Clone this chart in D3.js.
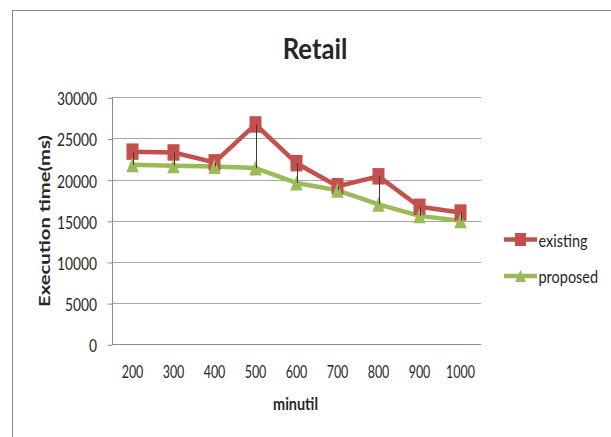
<!DOCTYPE html>
<html>
<head>
<meta charset="utf-8">
<script src="https://cdn.jsdelivr.net/npm/d3@7"></script>
<style>
  html, body { margin: 0; padding: 0; background: #fff; }
  svg { display: block; }
  text { font-family: Lato, "Open Sans", "DejaVu Sans", sans-serif; fill: #262626; }
</style>
</head>
<body>
<svg id="chart" width="611" height="437"></svg>
<script>
// Execution time per minutil threshold, Retail dataset
const categories = ["200", "300", "400", "500", "600", "700", "800", "900", "1000"];
const existing = [23400, 23300, 22100, 26700, 22000, 19200, 20400, 16700, 16000];
const proposed = [21800, 21700, 21600, 21400, 19600, 18700, 17000, 15600, 15000];
const yTicks = [0, 5000, 10000, 15000, 20000, 25000, 30000];
const seriesNames = ["existing", "proposed"];

const RED = "#c4504d";
const GREEN = "#9bbb59";

const svg = d3.select("#chart");
const plot = { left: 112, right: 481, top: 97.3, bottom: 344.3 };

// Outer chart frame (its right and bottom edges run past the canvas)
svg.append("rect")
  .attr("x", 12.5).attr("y", 10.5)
  .attr("width", 700).attr("height", 500)
  .attr("fill", "none").attr("stroke", "#8a8a8a").attr("stroke-width", 1);

const x = d3.scaleBand().domain(categories).range([plot.left, plot.right]).padding(0);
const y = d3.scaleLinear().domain([0, 30000]).range([plot.bottom, plot.top]);
const cx = c => x(c) + x.bandwidth() / 2;

// Horizontally squeeze a set of labels so that a reference string spans a given width
function squeezeFactor(sample, fontSize, weight, width) {
  const t = svg.append("text").attr("font-size", fontSize).attr("font-weight", weight).text(sample);
  const len = t.node().getComputedTextLength();
  t.remove();
  return width / len;
}

// Gridlines
svg.append("g").selectAll("line")
  .data(yTicks.filter(v => v > 0))
  .join("line")
  .attr("x1", plot.left).attr("x2", plot.right)
  .attr("y1", d => Math.round(y(d)) + 0.5).attr("y2", d => Math.round(y(d)) + 0.5)
  .attr("stroke", "#a6a6a6").attr("stroke-width", 1);

// Y axis
const ySx = squeezeFactor("30000", 18, "normal", 40);
const yAxisG = svg.append("g")
  .attr("transform", `translate(${plot.left + 0.5},0.5)`)
  .call(d3.axisLeft(y).tickValues(yTicks).tickSize(5).tickFormat(d3.format("d")));
yAxisG.select(".domain").attr("stroke", "#8c8c8c").attr("d", `M0,${plot.top}V${plot.bottom}`);
yAxisG.selectAll(".tick line").attr("stroke", "#8c8c8c");
yAxisG.selectAll(".tick text")
  .attr("x", null).attr("dy", null)
  .attr("font-size", 18)
  .attr("text-anchor", "end")
  .attr("fill", "#262626")
  .attr("transform", `translate(-15.5,7) scale(${ySx},1)`);

// X axis
const xSx = squeezeFactor("200", 17.6, "normal", 21.7);
const xAxisG = svg.append("g")
  .attr("transform", `translate(0,${Math.round(plot.bottom) + 0.5})`)
  .call(d3.axisBottom(x).tickSize(0));
xAxisG.select(".domain").attr("stroke", "#8c8c8c").attr("d", `M${plot.left},0H${plot.right}`);
xAxisG.selectAll(".tick text")
  .attr("y", null).attr("dy", null)
  .attr("font-size", 17.6)
  .attr("fill", "#262626")
  .attr("transform", `translate(0,33.5) scale(${xSx},1)`);

// Lines
const line = d3.line().x((d, i) => cx(categories[i])).y(d => y(d));
svg.append("path").datum(existing)
  .attr("d", line).attr("fill", "none").attr("stroke", RED)
  .attr("stroke-width", 4.5).attr("stroke-linejoin", "round");
svg.append("path").datum(proposed)
  .attr("d", line).attr("fill", "none").attr("stroke", GREEN)
  .attr("stroke-width", 4.5).attr("stroke-linejoin", "round");

// Marker shapes
const SQ_W = 12, SQ_H = 16.5, TR_W = 12.5, TR_H = 15;
const trianglePath = (w, h) => `M0,${-h / 2}L${w / 2},${h / 2}L${-w / 2},${h / 2}Z`;

svg.append("g").selectAll("rect")
  .data(existing)
  .join("rect")
  .attr("x", (d, i) => cx(categories[i]) - SQ_W / 2)
  .attr("y", d => y(d) - SQ_H / 2)
  .attr("width", SQ_W).attr("height", SQ_H)
  .attr("fill", RED);

svg.append("g").selectAll("path")
  .data(proposed)
  .join("path")
  .attr("d", trianglePath(TR_W, TR_H))
  .attr("transform", (d, i) => `translate(${cx(categories[i])},${y(d)})`)
  .attr("fill", GREEN);

// High-low lines joining the two series at each category
svg.append("g").selectAll("line")
  .data(categories)
  .join("line")
  .attr("x1", c => Math.round(cx(c)) + 0.5).attr("x2", c => Math.round(cx(c)) + 0.5)
  .attr("y1", (c, i) => y(existing[i]))
  .attr("y2", (c, i) => y(proposed[i]))
  .attr("stroke", "#3a3a3a").attr("stroke-width", 1);

// Title
const tSx = squeezeFactor("Retail", 29, "bold", 64.6);
svg.append("text")
  .attr("text-anchor", "middle").attr("font-size", 29).attr("font-weight", "bold")
  .attr("fill", "#000")
  .attr("transform", `translate(315,59) scale(${tSx},1)`)
  .text("Retail");

// Axis titles
const xtSx = squeezeFactor("minutil", 17.6, "bold", 45);
svg.append("text")
  .attr("text-anchor", "middle").attr("font-size", 17.6).attr("font-weight", "bold")
  .attr("fill", "#000")
  .attr("transform", `translate(295.5,410) scale(${xtSx},1)`)
  .text("minutil");

const ytSx = squeezeFactor("Execution time(ms)", 15.5, "bold", 172);
svg.append("text")
  .attr("text-anchor", "middle").attr("font-size", 15.5).attr("font-weight", "bold")
  .attr("fill", "#000")
  .attr("transform", `translate(50,221) rotate(-90) scale(${ytSx},1)`)
  .text("Execution time(ms)");

// Legend
const lSx = squeezeFactor("existing", 17.6, "normal", 49);
const legendRows = [
  { name: seriesNames[0], color: RED, shape: "square", y: 239.5 },
  { name: seriesNames[1], color: GREEN, shape: "triangle", y: 276 }
];
const legend = svg.append("g").selectAll("g")
  .data(legendRows)
  .join("g")
  .attr("transform", d => `translate(0,${d.y})`);
legend.append("line")
  .attr("x1", 504).attr("x2", 537).attr("y1", 0).attr("y2", 0)
  .attr("stroke", d => d.color).attr("stroke-width", 4.5);
legend.filter(d => d.shape === "square").append("rect")
  .attr("x", 520.5 - 5.5).attr("y", -6.5).attr("width", 11).attr("height", 13)
  .attr("fill", d => d.color);
legend.filter(d => d.shape === "triangle").append("path")
  .attr("d", trianglePath(11, 12))
  .attr("transform", "translate(520.5,0)")
  .attr("fill", d => d.color);
legend.append("text")
  .attr("font-size", 17.6)
  .attr("fill", "#262626")
  .attr("transform", `translate(538.5,7) scale(${lSx},1)`)
  .text(d => d.name);
</script>
</body>
</html>
